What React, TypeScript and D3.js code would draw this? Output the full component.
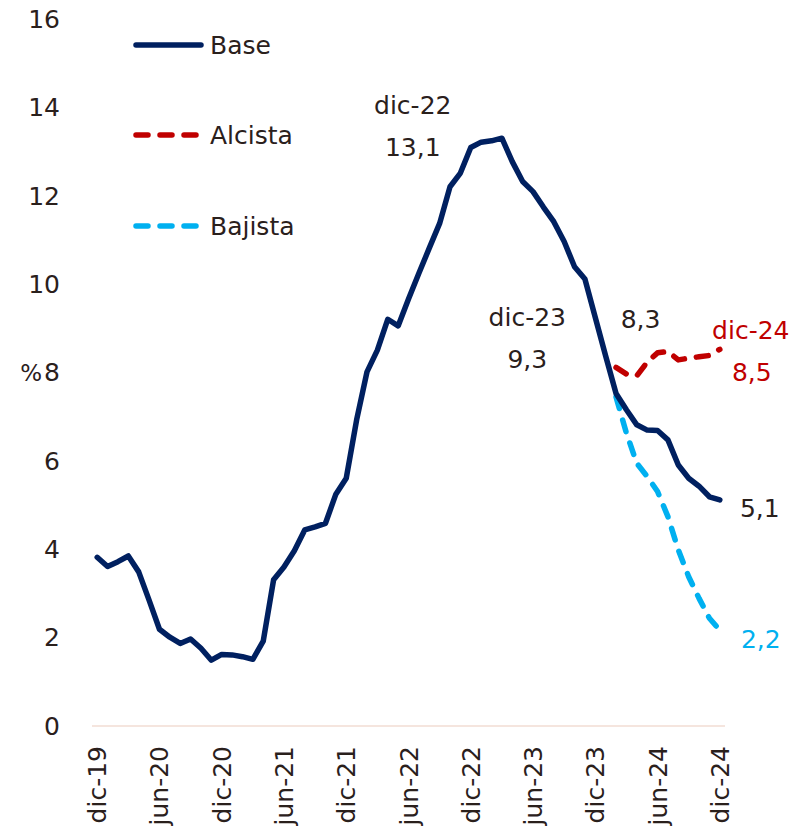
import React from "react";
import * as d3 from "d3";

const monthNames = ["ene", "feb", "mar", "abr", "may", "jun", "jul", "ago", "sep", "oct", "nov", "dic"];
const categories: string[] = ["dic-19"];
for (let y = 20; y <= 24; y++) for (const m of monthNames) categories.push(`${m}-${y}`);

const baseValues = [
  3.82, 3.61, 3.72, 3.85, 3.49, 2.85, 2.19, 2.01, 1.87, 1.97, 1.76, 1.49, 1.62,
  1.61, 1.57, 1.51, 1.92, 3.31, 3.6, 3.97, 4.44, 4.51, 4.59, 5.25, 5.61, 6.93,
  8.02, 8.51, 9.21, 9.06, 9.67, 10.25, 10.82, 11.38, 12.21, 12.52, 13.1, 13.22,
  13.25, 13.31, 12.78, 12.33, 12.1, 11.75, 11.42, 10.97, 10.4, 10.12, 9.25, 8.38,
  7.53, 7.16, 6.82, 6.7, 6.69, 6.48, 5.91, 5.61, 5.43, 5.19, 5.12,
];
const alcistaStart = "feb-24";
const alcistaValues = [8.12, 7.97, 7.93, 8.24, 8.45, 8.48, 8.29, 8.33, 8.36, 8.39, 8.53];
const bajistaStart = "feb-24";
const bajistaValues = [7.45, 6.63, 5.95, 5.65, 5.31, 4.74, 3.99, 3.38, 2.89, 2.44, 2.17];

const yTicks = [0, 2, 4, 6, 8, 10, 12, 14, 16];
const xTickLabels = ["dic-19", "jun-20", "dic-20", "jun-21", "dic-21", "jun-22", "dic-22", "jun-23", "dic-23", "jun-24", "dic-24"];

const legendItems = [
  { name: "Base", color: "#002060", dash: null },
  { name: "Alcista", color: "#C00000", dash: "12,12" },
  { name: "Bajista", color: "#00B0F0", dash: "12,12" },
];

const annotations = [
  { text: "dic-22", cat: "dic-22", v: 13.1, dx: -58, dy: -42, color: "#2a201c" },
  { text: "13,1", cat: "dic-22", v: 13.1, dx: -58, dy: 0, color: "#2a201c" },
  { text: "dic-23", cat: "dic-23", v: 9.25, dx: -68, dy: 0, color: "#2a201c" },
  { text: "9,3", cat: "dic-23", v: 9.25, dx: -68, dy: 42, color: "#2a201c" },
  { text: "8,3", cat: "jun-24", v: 8.45, dx: -17, dy: -34, color: "#2a201c" },
  { text: "dic-24", cat: "dic-24", v: 8.53, dx: 31, dy: -19, color: "#C00000" },
  { text: "8,5", cat: "dic-24", v: 8.53, dx: 32, dy: 23, color: "#C00000" },
  { text: "5,1", cat: "dic-24", v: 5.12, dx: 40, dy: 8, color: "#2a201c" },
  { text: "2,2", cat: "dic-24", v: 2.17, dx: 41, dy: 9, color: "#00B0F0" },
];

const TEXT = "#2a201c";
const FONT = "'DejaVu Sans', sans-serif";

export default function App() {
  const W = 797, H = 834;
  const x = d3.scalePoint<string>().domain(categories).range([92, 725]).padding(0.5);
  const y = d3.scaleLinear().domain([0, 16]).range([726, 19.4]);

  const line = d3
    .line<{ c: string; v: number }>()
    .x((d) => x(d.c) as number)
    .y((d) => y(d.v));

  const base = baseValues.map((v, i) => ({ c: categories[i], v }));
  const ai = categories.indexOf(alcistaStart);
  const alc = alcistaValues.map((v, i) => ({ c: categories[ai + i], v }));
  const bi = categories.indexOf(bajistaStart);
  const baj = bajistaValues.map((v, i) => ({ c: categories[bi + i], v }));

  const legendY = [45, 135, 226];

  return (
    <svg width={W} height={H} style={{ position: "absolute", left: 0, top: 0, background: "#fff" }}>
      <rect width={W} height={H} fill="#fff" />
      {/* y ticks */}
      {yTicks.map((t) => (
        <text key={t} x={60} y={y(t)} dy="0.35em" textAnchor="end" fontFamily={FONT} fontSize={25} fill={TEXT}>
          {t}
        </text>
      ))}
      <text x={42} y={373} textAnchor="end" dy="0.35em" fontFamily={FONT} fontSize={23} fill={TEXT}>
        %
      </text>
      {/* zero axis line */}
      <line x1={92} x2={725} y1={y(0)} y2={y(0)} stroke="#F2DCD3" strokeWidth={1.5} />
      {/* x tick labels */}
      {xTickLabels.map((c) => (
        <text
          key={c}
          transform={`translate(${(x(c) as number) + 9},746) rotate(-90)`}
          textAnchor="end"
          fontFamily={FONT}
          fontSize={25}
          fill={TEXT}
        >
          {c}
        </text>
      ))}
      {/* series */}
      <path d={line(baj) || ""} fill="none" stroke="#00B0F0" strokeWidth={5.5} strokeDasharray="12,12" strokeLinecap="round" strokeLinejoin="round" />
      <path d={line(base) || ""} fill="none" stroke="#002060" strokeWidth={5.5} strokeLinejoin="round" strokeLinecap="round" />
      <path d={line(alc) || ""} fill="none" stroke="#C00000" strokeWidth={5.5} strokeDasharray="12,12" strokeLinecap="round" strokeLinejoin="round" />
      {/* legend */}
      {legendItems.map((it, i) => (
        <g key={it.name}>
          <line
            x1={136}
            x2={it.dash ? 196 : 201}
            y1={legendY[i]}
            y2={legendY[i]}
            stroke={it.color}
            strokeWidth={5.5}
            strokeLinecap="round"
            strokeDasharray={it.dash || undefined}
          />
          <text x={210} y={legendY[i]} dy="0.35em" fontFamily={FONT} fontSize={25} fill={TEXT}>
            {it.name}
          </text>
        </g>
      ))}
      {/* annotations */}
      {annotations.map((a, i) => (
        <text
          key={i}
          x={(x(a.cat) as number) + a.dx}
          y={y(a.v) + a.dy}
          dy="0.35em"
          textAnchor="middle"
          fontFamily={FONT}
          fontSize={25}
          fill={a.color}
        >
          {a.text}
        </text>
      ))}
    </svg>
  );
}
